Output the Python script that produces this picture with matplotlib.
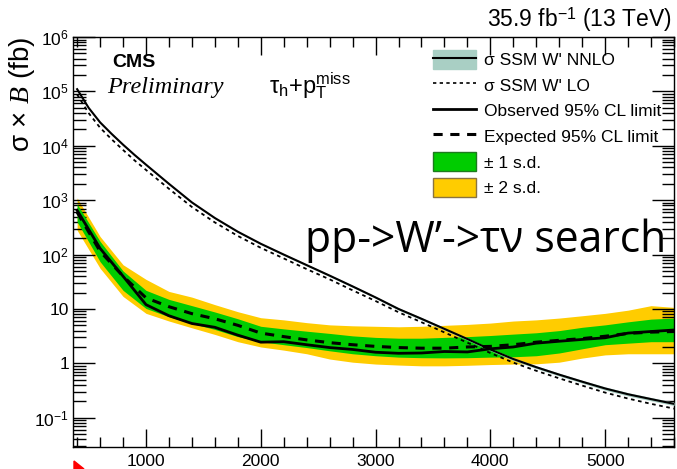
import math
import matplotlib
matplotlib.use("Agg")
import matplotlib.pyplot as plt
from matplotlib.lines import Line2D
from matplotlib.patches import Patch, Polygon
from matplotlib.ticker import FixedLocator, FuncFormatter, LogLocator, NullFormatter

# W' mass points (GeV) for the limits
mass = [400, 600, 800, 1000, 1200, 1400, 1600, 1800, 2000, 2200, 2400, 2600, 2800, 3000,
        3200, 3400, 3600, 3800, 4000, 4200, 4400, 4600, 4800, 5000, 5200, 5400, 5600]

# theory mass grid and cross sections (fb)
theory_mass = [400, 500, 600, 700, 800, 900, 1000, 1200, 1400, 1600, 1800, 2000, 2200, 2400,
               2600, 2800, 3000, 3200, 3400, 3600, 3800, 4000, 4200, 4400, 4600, 4800, 5000,
               5200, 5400, 5600]
ssm_nnlo = [110000, 50000, 27000, 16600, 10500, 6800, 4500, 2000, 910, 470, 263, 158, 100, 64,
            41, 26, 16.3, 10.0, 6.6, 4.3, 2.8, 1.8, 1.2, 0.85, 0.62, 0.46, 0.345,
            0.27, 0.22, 0.18]
ssm_nnlo_unc = [0.03, 0.03, 0.03, 0.03, 0.03, 0.03, 0.03, 0.03, 0.03, 0.03, 0.03, 0.03, 0.04, 0.04,
                0.04, 0.04, 0.04, 0.05, 0.05, 0.05, 0.05, 0.05, 0.06, 0.06, 0.06, 0.06, 0.07,
                0.07, 0.07, 0.07]
ssm_lo = [88000, 40000, 21500, 13200, 8400, 5400, 3600, 1620, 750, 390, 220, 133, 85, 54,
          35, 22, 14, 8.7, 5.7, 3.7, 2.4, 1.55, 1.03, 0.73, 0.53, 0.39, 0.29,
          0.225, 0.18, 0.147]

# 95% CL limits (fb)
observed = [650, 130, 40, 12, 7.5, 5.4, 4.6, 3.3, 2.45, 2.5, 2.2, 1.95, 1.8, 1.6,
            1.53, 1.55, 1.65, 1.62, 1.85, 2.0, 2.35, 2.55, 2.75, 2.95, 3.6, 3.85, 4.1]
expected = [600, 115, 40, 16, 11, 8.2, 6.6, 5.0, 3.6, 3.1, 2.7, 2.4, 2.2, 2.05,
            1.95, 1.9, 1.9, 2.0, 2.05, 2.2, 2.45, 2.65, 2.85, 3.15, 3.55, 3.75, 3.85]
sd1_lo = [400, 74, 22, 10.2, 7.2, 5.4, 4.2, 3.1, 2.5, 2.2, 1.95, 1.7, 1.5, 1.38,
          1.3, 1.27, 1.26, 1.27, 1.3, 1.32, 1.38, 1.55, 1.85, 2.2, 2.35, 2.5, 2.5]
sd1_hi = [850, 175, 50, 22, 15, 11.5, 8.8, 6.6, 4.8, 4.3, 3.9, 3.55, 3.2, 3.0,
          2.9, 2.9, 3.0, 3.1, 3.25, 3.45, 3.65, 4.0, 4.6, 5.1, 5.8, 6.5, 6.8]
sd2_lo = [280, 56, 17, 8.3, 6.0, 4.5, 3.4, 2.5, 2.0, 1.75, 1.5, 1.2, 1.05, 0.97,
          0.93, 0.9, 0.9, 0.92, 0.95, 0.97, 0.98, 1.05, 1.25, 1.43, 1.5, 1.5, 1.5]
sd2_hi = [1100, 215, 65, 35, 21, 16.5, 12, 8.9, 6.9, 6.3, 5.6, 5.1, 4.9, 4.8,
          4.7, 4.8, 5.0, 5.2, 5.5, 6.0, 6.3, 6.8, 7.5, 8.3, 9.5, 11.5, 10.7]

y_major = [0.1, 1, 10, 100, 1e3, 1e4, 1e5, 1e6]

GREEN = "#00cc00"
YELLOW = "#ffcc00"
TEAL = "#a9cfc4"

plt.rcParams["font.family"] = ["Liberation Sans", "DejaVu Sans"]
plt.rcParams["mathtext.fontset"] = "custom"
plt.rcParams["mathtext.rm"] = "Liberation Sans"
plt.rcParams["mathtext.it"] = "Liberation Serif:italic"
plt.rcParams["mathtext.bf"] = "Liberation Sans:bold"

fig = plt.figure(figsize=(6.77, 4.69), dpi=100)
ax = fig.add_axes([0.108, 0.047, 0.8876, 0.874])

# expected bands
ax.fill_between(mass, sd2_lo, sd2_hi, color=YELLOW, lw=0, zorder=1)
ax.fill_between(mass, sd1_lo, sd1_hi, color=GREEN, lw=0, zorder=2)

# theory
nnlo_lo = [v * (1 - u) for v, u in zip(ssm_nnlo, ssm_nnlo_unc)]
nnlo_hi = [v * (1 + u) for v, u in zip(ssm_nnlo, ssm_nnlo_unc)]
ax.fill_between(theory_mass, nnlo_lo, nnlo_hi, color=TEAL, lw=0, zorder=3)
ax.plot(theory_mass, ssm_nnlo, color="black", lw=1.5, zorder=4)
ax.plot(theory_mass, ssm_lo, color="black", lw=1.3, ls=(0, (2, 2)), zorder=4)

# limits
ax.plot(mass, expected, color="black", lw=2.2, ls=(0, (3, 2.5)), zorder=5)
ax.plot(mass, observed, color="black", lw=2.0, zorder=6)

ax.set_yscale("log")
ax.set_xlim(365, 5600)
ax.set_ylim(0.029, 1e6)

# ROOT-like ticks
ax.xaxis.set_major_locator(FixedLocator([1000, 2000, 3000, 4000, 5000]))
ax.xaxis.set_minor_locator(FixedLocator(list(range(400, 5601, 200))))
ax.yaxis.set_major_locator(FixedLocator(y_major))
ax.yaxis.set_minor_locator(LogLocator(base=10, subs=range(2, 10), numticks=20))
ax.yaxis.set_minor_formatter(NullFormatter())
ax.tick_params(which="both", direction="in", top=True, right=True, labelsize=12.5, width=1.0)
ax.tick_params(axis="x", which="major", length=13, pad=5)
ax.tick_params(axis="x", which="minor", length=7)
ax.tick_params(axis="y", which="major", length=16, pad=3)
ax.tick_params(axis="y", which="minor", length=9)


def ylab(v, pos):
    if abs(v - 10) < 1e-6:
        return "10"
    if abs(v - 1) < 1e-6:
        return "1"
    e = int(round(math.log10(v)))
    return r"$\mathregular{10^{%d}}$" % e


ax.yaxis.set_major_formatter(FuncFormatter(ylab))
for s in ax.spines.values():
    s.set_linewidth(1.0)

ax.set_ylabel(r"σ × $B$ (fb)", fontsize=20, loc="top")
ax.yaxis.set_label_coords(-0.06, 1.0)

fig.text(0.993, 1 - 27 / 469, r"35.9 fb$^{\mathregular{-1}}$ (13 TeV)", ha="right", va="baseline",
         fontsize=16.5)
fig.text(112 / 677, 1 - 67 / 469, "CMS", fontsize=14, fontweight="bold", va="baseline")
fig.text(107 / 677, 1 - 93 / 469, "Preliminary", fontsize=17.5, style="italic", family="Liberation Serif",
         va="baseline")
fig.text(269 / 677, 1 - 93 / 469, r"τ$_{\mathregular{h}}$+p$_{\mathregular{T}}^{\mathregular{miss}}$",
         fontsize=17, va="baseline")

# legend
handles = [
    (Patch(facecolor=TEAL, edgecolor=TEAL), Line2D([], [], color="black", lw=1.5)),
    Line2D([], [], color="black", lw=1.2, ls=(0, (2, 2))),
    Line2D([], [], color="black", lw=2.0),
    Line2D([], [], color="black", lw=2.2, ls=(0, (3, 2.5))),
    Patch(facecolor=GREEN, edgecolor="#1e7a1e", lw=1.0),
    Patch(facecolor=YELLOW, edgecolor="#8a7440", lw=1.0),
]
labels = ["σ SSM W' NNLO", "σ SSM W' LO", "Observed 95% CL limit",
          "Expected 95% CL limit", "± 1 s.d.", "± 2 s.d."]
ax.legend(handles, labels, loc="upper left", bbox_to_anchor=(0.587, 0.985), frameon=False,
          fontsize=12.5, handlelength=2.5, handleheight=1.3, handletextpad=0.45, labelspacing=0.38,
          borderaxespad=0)

# overlay caption from the slide
fig.text(305 / 677, 1 - 252 / 469, "pp->W’->τν search", fontsize=30.7, family="Open Sans",
         va="baseline", zorder=10)

# small red marker at bottom-left of the slide
fig.patches.append(Polygon([[74 / 677, 0.0], [74 / 677, 8 / 469], [84 / 677, 0.0]],
                           closed=True, transform=fig.transFigure, color="red", zorder=10))

fig.savefig("out.png", dpi=100)
